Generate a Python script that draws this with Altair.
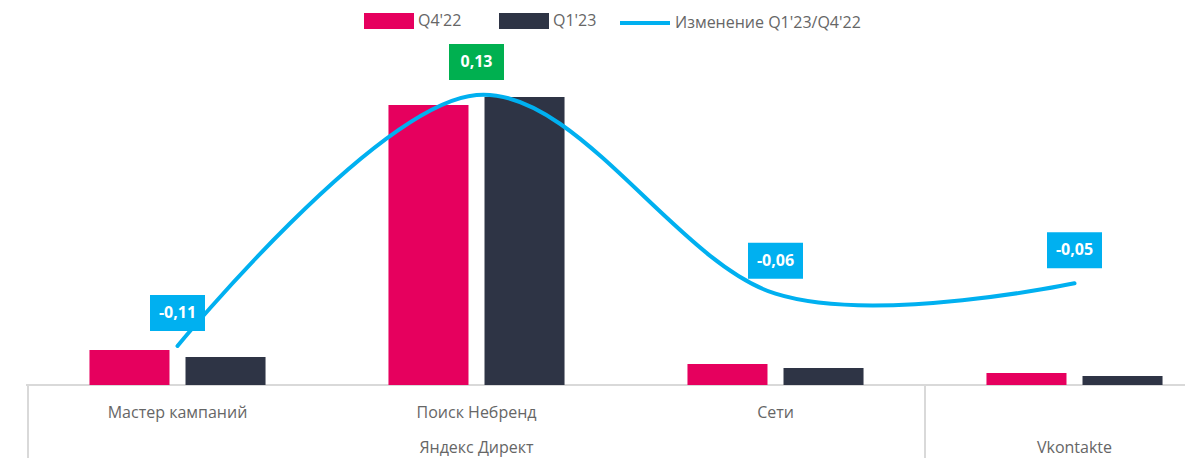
import altair as alt
import pandas as pd

categories = ["Мастер кампаний", "Поиск Небренд", "Сети", "Vkontakte"]
cat_labels = ["Мастер кампаний", "Поиск Небренд", "Сети", ""]
series = ["Q4'22", "Q1'23"]
q4_22 = [35, 280, 21, 12]
q1_23 = [28, 288, 17, 9]
change = [-0.11, 0.13, -0.06, -0.05]
change_labels = ["-0,11", "0,13", "-0,06", "-0,05"]
line_name = "Изменение Q1'23/Q4'22"
group_names = ["Яндекс Директ", "Vkontakte"]
group_first = ["Мастер кампаний", "Vkontakte"]
group_mid = ["Поиск Небренд", "Vkontakte"]

PINK = "#e6005e"
DARK = "#2e3445"
CYAN = "#00b0f0"
GREEN = "#00b050"
GRID = "#d9d9d9"
TXT = "#666666"
FONT = "Open Sans"

bars_df = pd.DataFrame({
    "cat": categories * 2,
    "series": [series[0]] * 4 + [series[1]] * 4,
    "val": q4_22 + q1_23,
})
line_df = pd.DataFrame({
    "cat": categories,
    "change": change,
    "label": change_labels,
    "name": [line_name] * 4,
})
cat_df = pd.DataFrame({"cat": categories, "clabel": cat_labels})
grp_df = pd.DataFrame({"first": group_first, "mid": group_mid, "gname": group_names})

W, H = 1177, 450
xscale = alt.Scale(domain=categories, range=[20, 1216], paddingInner=0, paddingOuter=0)

def X(field="cat", **kw):
    return alt.X(f"{field}:N", sort=categories, scale=xscale, axis=None, **kw)

bars = alt.Chart(bars_df).mark_bar(clip=True).encode(
    x=X(),
    xOffset=alt.XOffset("series:N", sort=series,
                        scale=alt.Scale(domain=series, paddingInner=0.1667, paddingOuter=0.64)),
    y=alt.Y("val:Q", scale=alt.Scale(domain=[0, 300], range=[377, 77]), axis=None),
    fill=alt.Fill("series:N", sort=series,
                  scale=alt.Scale(domain=series, range=[PINK, DARK]),
                  legend=alt.Legend(title=None, orient="none", legendX=356, legendY=-12,
                                    direction="horizontal",
                                    symbolType="M-1,-0.32H1V0.32H-1Z", symbolSize=2500,
                                    symbolStrokeWidth=0, labelFontSize=16, labelColor=TXT,
                                    labelFont=FONT, columnPadding=37, labelOffset=4, padding=0)),
)

ly = alt.Y("change:Q", scale=alt.Scale(domain=[-0.11, 0.13], range=[338, 87]), axis=None)

line = alt.Chart(line_df).mark_line(interpolate="cardinal", tension=0, strokeWidth=4,
                                    strokeCap="round").encode(
    x=X(),
    y=ly,
    stroke=alt.Stroke("name:N", scale=alt.Scale(domain=[line_name], range=[CYAN]),
                      legend=alt.Legend(title=None, orient="none", legendX=610, legendY=-12,
                                        symbolType="stroke", symbolSize=2500,
                                        symbolStrokeWidth=4, labelFontSize=16,
                                        labelColor=TXT, labelFont=FONT, labelOffset=3,
                                        labelLimit=0, padding=0)),
)

boxes = alt.Chart(line_df).transform_calculate(
    col=f"datum.change > 0 ? '{GREEN}' : '{CYAN}'"
).mark_point(shape="M-1,-0.655H1V0.655H-1Z", filled=True, size=3025, opacity=1,
             yOffset=-33, strokeWidth=0).encode(
    x=X(), y=ly, color=alt.Color("col:N", scale=None, legend=None),
)

box_text = alt.Chart(line_df).mark_text(yOffset=-33, color="white", fontWeight="bold",
                                        fontSize=16, font=FONT).encode(
    x=X(), y=ly, text="label:N",
)

axis_line = alt.Chart(cat_df).mark_rule(color=GRID, strokeWidth=2).encode(
    x=alt.value(18), x2=alt.value(W), y=alt.value(377),
)

seps = alt.Chart(grp_df).mark_rule(color=GRID, strokeWidth=2).encode(
    x=alt.X("first:N", sort=categories, scale=xscale, axis=None, bandPosition=0),
    y=alt.value(377), y2=alt.value(H),
)

cat_text = alt.Chart(cat_df).mark_text(fontSize=16, color=TXT, font=FONT, baseline="middle").encode(
    x=X(), y=alt.value(405), text="clabel:N",
)

grp_text = alt.Chart(grp_df).mark_text(fontSize=16, color=TXT, font=FONT, baseline="middle").encode(
    x=alt.X("mid:N", sort=categories, scale=xscale, axis=None), y=alt.value(440), text="gname:N",
)

chart = alt.layer(
    axis_line, seps, bars, line, boxes, box_text, cat_text, grp_text
).resolve_scale(
    y="independent", color="independent", fill="independent", stroke="independent"
).properties(
    width=W, height=H, autosize=alt.AutoSizeParams(type="none"), padding=0,
).configure_view(stroke=None)

chart.save("out.html", embed_options={"renderer": "svg", "actions": False})
